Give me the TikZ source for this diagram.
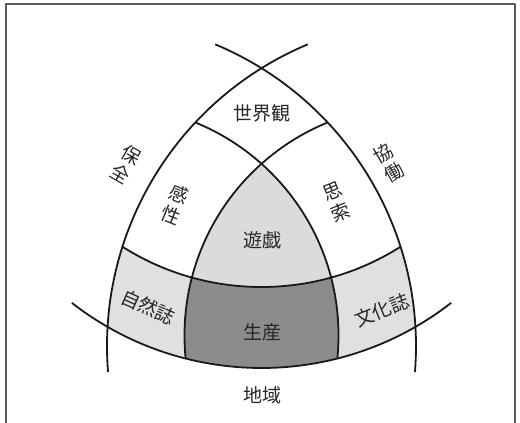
\documentclass[tikz,border=0pt]{standalone}
\usepackage{fontspec}
\newfontfamily\jp{Noto Sans CJK JP}
\begin{document}
\begin{tikzpicture}[x=1pt,y=1pt, line join=round,
  lbl/.style={font=\jp\fontsize{19}{22}\selectfont, text=black!85, inner sep=0pt, align=center},
  arcline/.style={line width=1.8pt, draw=black!90},
  lightfill/.style={fill=black!12},
  darkfill/.style={fill=black!45}]
\useasboundingbox (0,0) rectangle (520,423);
% frame
\draw[line width=1.5pt, black!65] (6,0) -- (6,419) -- (515,419) -- (515,0);
% named centres
\coordinate (cLB) at (434,77);
\coordinate (cRB) at (89,77);
\coordinate (cA3) at (261.5,363.7);
\coordinate (cA2) at (261.5,396);
\coordinate (cIL) at (414.5,87.5);
\coordinate (cIR) at (108.5,87.5);
\begin{scope}
  \clip (cLB) circle (327);
  \clip (cRB) circle (327);
  \clip (cA3) circle (308.7);
  \fill[lightfill, even odd rule] (0,0) rectangle (520,423) (cA2) circle (260);
  \begin{scope}
    \clip (cIL) circle (230);
    \clip (cIR) circle (230);
    \fill[darkfill] (0,0) rectangle (520,423);
    \fill[fill=black!14] (cA2) circle (260);
  \end{scope}
  \draw[arcline] (cA2) circle (260);
  \draw[arcline] (cIL) circle (230);
  \draw[arcline] (cIR) circle (230);
\end{scope}
% outer arcs
\draw[arcline] (cLB) ++(112.7:327) arc[start angle=112.7, end angle=184.56, radius=327];
\draw[arcline] (cRB) ++(67.3:327) arc[start angle=67.3, end angle=-4.56, radius=327];
\draw[arcline] (cA3) ++(232.1:308.7) arc[start angle=232.1, end angle=307.9, radius=308.7];
% labels
\node[lbl] (sekai) at (262,310) {世界観};
\node[lbl, rotate=-22] (kansei) at (175,218) {感\\性};
\node[lbl, rotate=22] (shisaku) at (337,221) {思\\索};
\node[lbl, rotate=-30] (hozen) at (126,259) {保\\全};
\node[lbl, rotate=30] (kyodo) at (389,260) {協\\働};
\node[lbl] (yugi) at (262,183) {遊戯};
\node[lbl] (seisan) at (262,91) {生産};
\node[lbl, rotate=-24] (shizen) at (148,116) {自然誌};
\node[lbl, rotate=22] (bunka) at (382,113) {文化誌};
\node[lbl] (chiiki) at (262,28) {地域};
\end{tikzpicture}
\end{document}
